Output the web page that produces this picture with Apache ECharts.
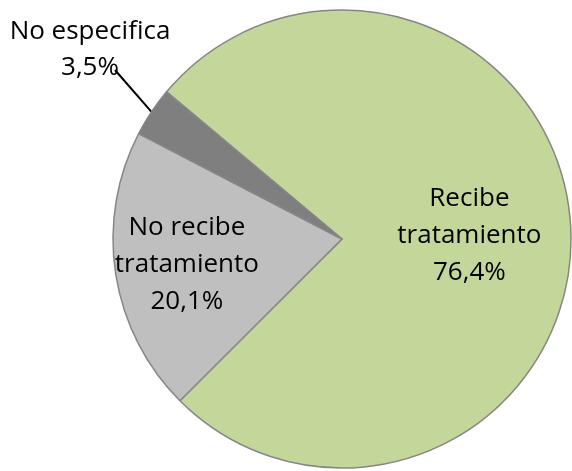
<!DOCTYPE html>
<html>
<head>
<meta charset="utf-8">
<title>Tratamiento</title>
<script src="https://cdn.jsdelivr.net/npm/echarts@6/dist/echarts.min.js"></script>
<style>
html, body { margin: 0; padding: 0; background: #fff; }
#echart_pie_tratamiento { width: 572px; height: 471px; }
</style>
</head>
<body>
<div id="echart_pie_tratamiento"></div>
<script>
// datos del grafico
var categorias = ['Recibe\ntratamiento', 'No recibe\ntratamiento', 'No especifica'];
var porcentajes = [76.4, 20.1, 3.5];
var colores = ['#C4D79B', '#BFBFBF', '#7F7F7F'];

echartPieTratamiento();

//grafico de tarta: recibe tratamiento / no recibe / no especifica
function echartPieTratamiento(){
	var dom = document.getElementById("echart_pie_tratamiento");
	var myChart = echarts.init(dom);

	var datos = [];
	for(var i=0; i<categorias.length; i++){
		var item = {
			name: categorias[i],
			value: porcentajes[i],
			itemStyle: {color: colores[i]}
		};
		if(i == 2){
			// la etiqueta pequena va fuera con su linea
			item.label = {position: 'outside', lineHeight: 36};
			item.labelLine = {
				show: true,
				length: 20,
				length2: 0,
				lineStyle: {color: '#000', width: 2}
			};
		}
		datos.push(item);
	}

	var optionPie = {
		animation: false,
		series: [
			{
				name: 'Tratamiento',
				type: 'pie',
				center: [342, 239],
				radius: 229,
				startAngle: 140,
				clockwise: true,
				avoidLabelOverlap: false,
				itemStyle: {
					borderColor: '#868686',
					borderWidth: 1.5
				},
				label: {
					show: true,
					position: 'inside',
					fontFamily: 'Open Sans',
					fontSize: 26,
					lineHeight: 37,
					color: '#000',
					align: 'center',
					formatter: function(p){
						return p.name + '\n' + p.value.toFixed(1).replace('.', ',') + '%';
					}
				},
				labelLine: {show: false},
				labelLayout: function(params){
					if(params.dataIndex == 0) return {dx: 10, dy: 2};
					if(params.dataIndex == 1) return {dx: -39, dy: 8};
					if(params.dataIndex == 2){
						// la linea sale del borde del sector y llega al signo %
						var lx = 90, ly = 50;
						var p0 = params.labelLinePoints ? params.labelLinePoints[0] : null;
						var res = {x: lx, y: ly, align: 'center', verticalAlign: 'middle'};
						if(p0){
							var fin = [lx + 25, ly + 20];
							res.labelLinePoints = [p0, fin, fin];
						}
						return res;
					}
				},
				emphasis: {disabled: true},
				data: datos
			}
		]
	};

	myChart.setOption(optionPie, true);
}
</script>
</body>
</html>
